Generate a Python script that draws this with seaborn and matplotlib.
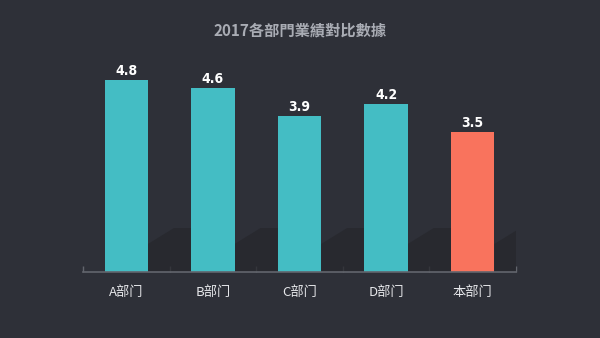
import matplotlib
matplotlib.use("Agg")
import matplotlib.pyplot as plt
import seaborn as sns
import numpy as np
from matplotlib.patches import Polygon

categories = ["A部门", "B部门", "C部门", "D部门", "本部门"]
values = [4.8, 4.6, 3.9, 4.2, 3.5]
value_labels = ["4.8", "4.6", "3.9", "4.2", "3.5"]
title = "2017各部門業績對比數據"

bg = "#2e3038"
teal = "#44bdc4"
coral = "#f9735d"
palette = [teal, teal, teal, teal, coral]

sns.set_theme(style="dark")
plt.rcParams['font.family'] = ['Noto Sans CJK SC', 'DejaVu Sans']

fig = plt.figure(figsize=(6, 3.38), dpi=100, facecolor=bg)
ax = fig.add_axes([83/600, 66/338, 433/600, 200/338])
ax.set_facecolor(bg)

# subtle decorative shadows behind bars, derived from bar positions
for i, v in enumerate(values):
    x0 = i + 0.25
    x1 = i + 0.75
    poly = Polygon([(x0, 0), (x0, 0.7), (x0 + 0.3, 1.1), (x1, 1.1), (x1, 0)],
                   closed=True, facecolor="#26272c", edgecolor="none", alpha=0.75, zorder=1)
    ax.add_patch(poly)

sns.barplot(x=categories, y=values, hue=categories, palette=palette, width=0.5,
            legend=False, ax=ax, saturation=1, zorder=2, linewidth=0, edgecolor="none")

for i, (v, lab) in enumerate(zip(values, value_labels)):
    ax.text(i, v + 0.06, lab, ha="center", va="bottom", color="white",
            fontsize=10, fontweight="bold", fontstretch="condensed",
            family=["DejaVu Sans"])

ax.set_xlim(-0.5, len(categories) - 0.5)
ax.set_ylim(0, 5)
ax.set_yticks([])
ax.set_xlabel("")
ax.set_ylabel("")
for s in ["top", "right", "left"]:
    ax.spines[s].set_visible(False)
ax.spines["bottom"].set_color("#62656d")
ax.spines["bottom"].set_linewidth(1.2)
ax.tick_params(axis="x", which="major", bottom=True, length=0, colors="#e6e7ea",
               labelsize=9.5, pad=10)
ax.set_xticks(np.arange(-0.5, len(categories), 1.0), minor=True)
ax.tick_params(axis="x", which="minor", bottom=True, direction="in", length=4,
               color="#62656d", width=1)
ax.grid(False)

fig.text(0.5, 1 - 30/338, title, ha="center", va="center", color="#a9acb4",
         fontsize=11, fontweight="bold")

fig.savefig("out.png", dpi=100, facecolor=bg)
